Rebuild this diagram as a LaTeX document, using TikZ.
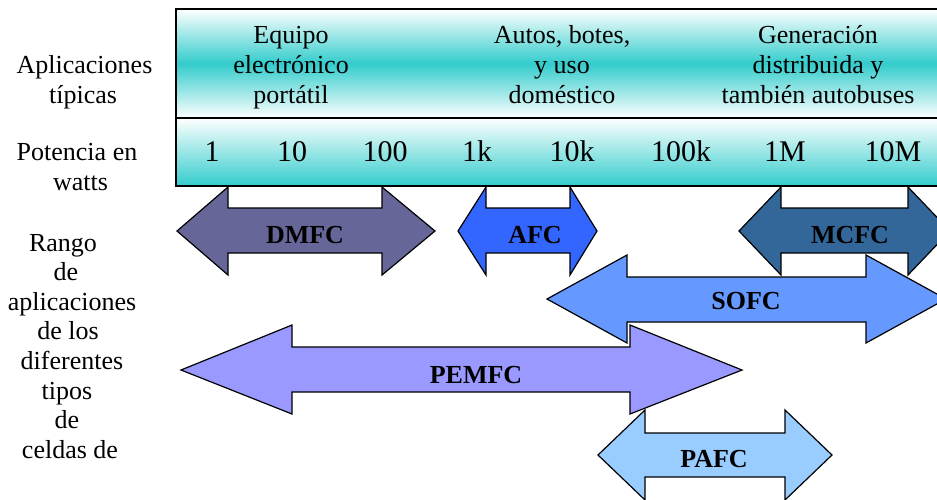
\documentclass[tikz,border=0pt]{standalone}
\usepackage{fontspec}
\setmainfont{Liberation Serif}
\definecolor{turq}{HTML}{33CCCC}
\definecolor{dmfcc}{HTML}{666699}
\definecolor{afcc}{HTML}{3366FF}
\definecolor{mcfcc}{HTML}{336699}
\definecolor{sofcc}{HTML}{6699FF}
\definecolor{pemfcc}{HTML}{9999FF}
\definecolor{pafcc}{HTML}{99CCFF}
\begin{document}
\begin{tikzpicture}[x=1pt,y=-1pt,
    txt/.style={font=\fontsize{26}{30}\selectfont, inner sep=0pt, anchor=base},
    num/.style={font=\fontsize{30}{36}\selectfont, inner sep=0pt, anchor=base},
    tipo/.style={font=\fontsize{26}{30}\selectfont\bfseries, inner sep=0pt, anchor=base},
    flecha/.style={draw=black, line width=1.2pt, line join=miter}]
    \useasboundingbox (0,0) rectangle (937,499);
    \clip (0,0) rectangle (937,499);

    % caja superior
    \shade[top color=white, bottom color=white, middle color=turq]
      (176,9) rectangle (945,118);
    \shade[top color=white, bottom color=turq]
      (176,118) rectangle (945,186);
    \draw[line width=1.5pt] (945,9) -- (176,9) -- (176,186) -- (945,186);
    \draw[line width=1.5pt] (176,118) -- (945,118);

    % textos de la caja
    \foreach \t/\y in {Equipo/43, electrónico/73, portátil/103} {
      \node[txt] (equipo\y) at (291,\y) {\t};
    }
    \foreach \t/\y in {{Autos, botes,}/43, y uso/73, doméstico/103} {
      \node[txt] (autos\y) at (562,\y) {\t};
    }
    \foreach \t/\y in {Generación/43, distribuida y/73, también autobuses/103} {
      \node[txt] (gen\y) at (818,\y) {\t};
    }
    \foreach \x/\p [count=\i] in {212/1, 292/10, 385/100, 477/1k,
                                  572/10k, 681/100k, 785/1M, 893/10M} {
      \node[num] (pot\i) at (\x,161) {\p};
    }

    % textos de la izquierda
    \node[txt] (aplic1) at (84.5,73) {Aplicaciones};
    \node[txt] (aplic2) at (83,103) {típicas};
    \node[txt] (watts1) at (77,160) {Potencia en};
    \node[txt] (watts2) at (80.5,190) {watts};
    \foreach \t/\x [count=\i] in {Rango/63, de/66, aplicaciones/72, de los/68,
                                  diferentes/72, tipos/67, de/67, celdas de/70} {
      \node[txt] (rango\i) at (\x,221.5+29.6*\i) {\t};
    }

    % flechas
    \draw[flecha, fill=dmfcc]
    (177,231) -- (228,187) -- (228,208) --
    (382,208) -- (382,187) -- (435,231) --
    (382,275) -- (382,253) -- (228,253) --
    (228,275) -- cycle;
    \draw[flecha, fill=afcc]
    (458,231) -- (486,187) -- (486,208) --
    (570,208) -- (570,187) -- (597,231) --
    (570,275) -- (570,253) -- (486,253) --
    (486,275) -- cycle;
    \draw[flecha, fill=mcfcc]
    (739,231) -- (781,187) -- (781,208) --
    (908,208) -- (908,187) -- (950,231) --
    (908,275) -- (908,253) -- (781,253) --
    (781,275) -- cycle;
    \draw[flecha, fill=sofcc]
    (547,299) -- (627,255) -- (627,277) --
    (866,277) -- (866,255) -- (946,299) --
    (866,343) -- (866,322) -- (627,322) --
    (627,343) -- cycle;
    \draw[flecha, fill=pemfcc]
    (181,370) -- (292,325) -- (292,347) --
    (630,347) -- (630,325) -- (742,370) --
    (630,414) -- (630,392) -- (292,392) --
    (292,414) -- cycle;
    \draw[flecha, fill=pafcc]
    (598,455) -- (645,410) -- (645,433) --
    (785,433) -- (785,410) -- (832,455) --
    (785,500) -- (785,477) -- (645,477) --
    (645,500) -- cycle;

    \node[tipo] (dmfc) at (305,243) {DMFC};
    \node[tipo] (afc) at (535,243) {AFC};
    \node[tipo] (mcfc) at (850,243) {MCFC};
    \node[tipo] (sofc) at (746,309) {SOFC};
    \node[tipo] (pemfc) at (476,383) {PEMFC};
    \node[tipo] (pafc) at (714,467) {PAFC};
  \end{tikzpicture}
\end{document}
